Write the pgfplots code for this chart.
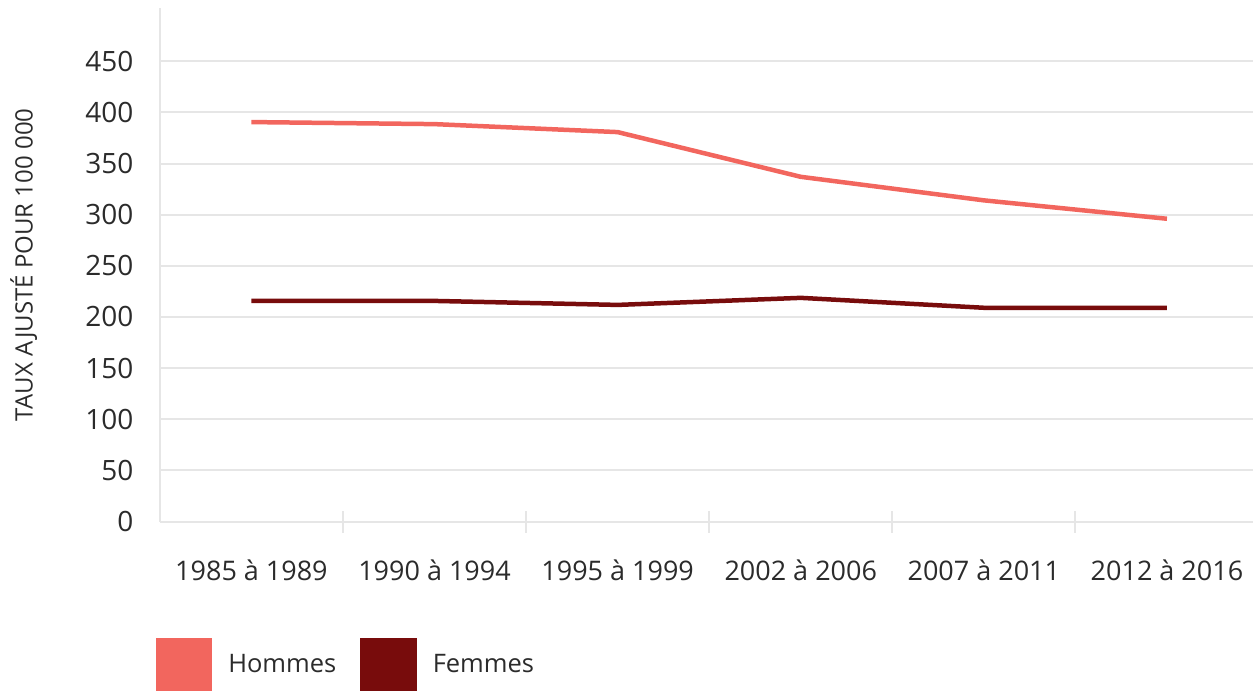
\documentclass[border=0pt]{standalone}
\usepackage{pgfplots}
\pgfplotsset{compat=1.18}
\usepackage{fontspec}
\setmainfont{Open Sans}
\definecolor{hommes}{HTML}{F2665E}
\definecolor{femmes}{HTML}{780C0C}
\definecolor{gridc}{HTML}{E6E6E6}
\definecolor{txt}{HTML}{2B2B2B}
\begin{document}
\begin{tikzpicture}
\begin{axis}[
    scale only axis,
    width=1094pt, height=514pt,
    xmin=-0.5, xmax=5.47,
    ymin=0, ymax=502,
    axis lines=left,
    axis line style={draw=gridc, line width=2pt, -},
    /pgf/number format/assume math mode=true,
    xtick={0,...,5},
    xticklabels={1985 à 1989,1990 à 1994,1995 à 1999,2002 à 2006,2007 à 2011,2012 à 2016},
    major tick length=0pt,
    tick style={draw=gridc, line width=2pt},
    extra x ticks={0.5,1.5,2.5,3.5,4.5},
    extra x tick labels={},
    extra x tick style={major tick length=22pt, grid=none},
    ytick={0,50,...,450},
    ymajorgrids,
    grid style={draw=gridc, line width=2pt},
    tick label style={font=\fontsize{27}{32}\selectfont, text=txt},
    xticklabel style={yshift=-35pt},
    yticklabel style={xshift=-23pt, font=\fontsize{28}{32}\selectfont},
    ylabel={TAUX AJUSTÉ POUR 100 000},
    ylabel style={at={(axis description cs:-0.1245,0.5)}, anchor=center, font=\fontsize{24}{28}\selectfont, text=txt},
    legend style={at={(axis description cs:-0.0037,-0.329)}, anchor=south west,
        draw=none, fill=none, inner sep=0pt, outer sep=0pt,
        font=\fontsize{25.5}{30}\selectfont, text=txt,
        legend columns=2,
        nodes={inner sep=0pt, anchor=west},
        /tikz/every odd column/.append style={column sep=16pt},
        /tikz/every even column/.append style={column sep=24pt}},
    legend image code/.code={\fill[#1] (0pt,-24pt) rectangle (52pt,24pt);},
]
\addplot[color=hommes, line width=4.5pt] coordinates {
    (0,390.5) (1,388.5) (2,380.7) (3,337) (4,314) (5,296)
};
\addlegendentry{Hommes}
\addplot[color=femmes, line width=4.5pt] coordinates {
    (0,215.7) (1,215.7) (2,211.8) (3,218.7) (4,209) (5,209)
};
\addlegendentry{Femmes}
\end{axis}
\path ([xshift=-160pt,yshift=8pt]current axis.north west);
\end{tikzpicture}
\end{document}
